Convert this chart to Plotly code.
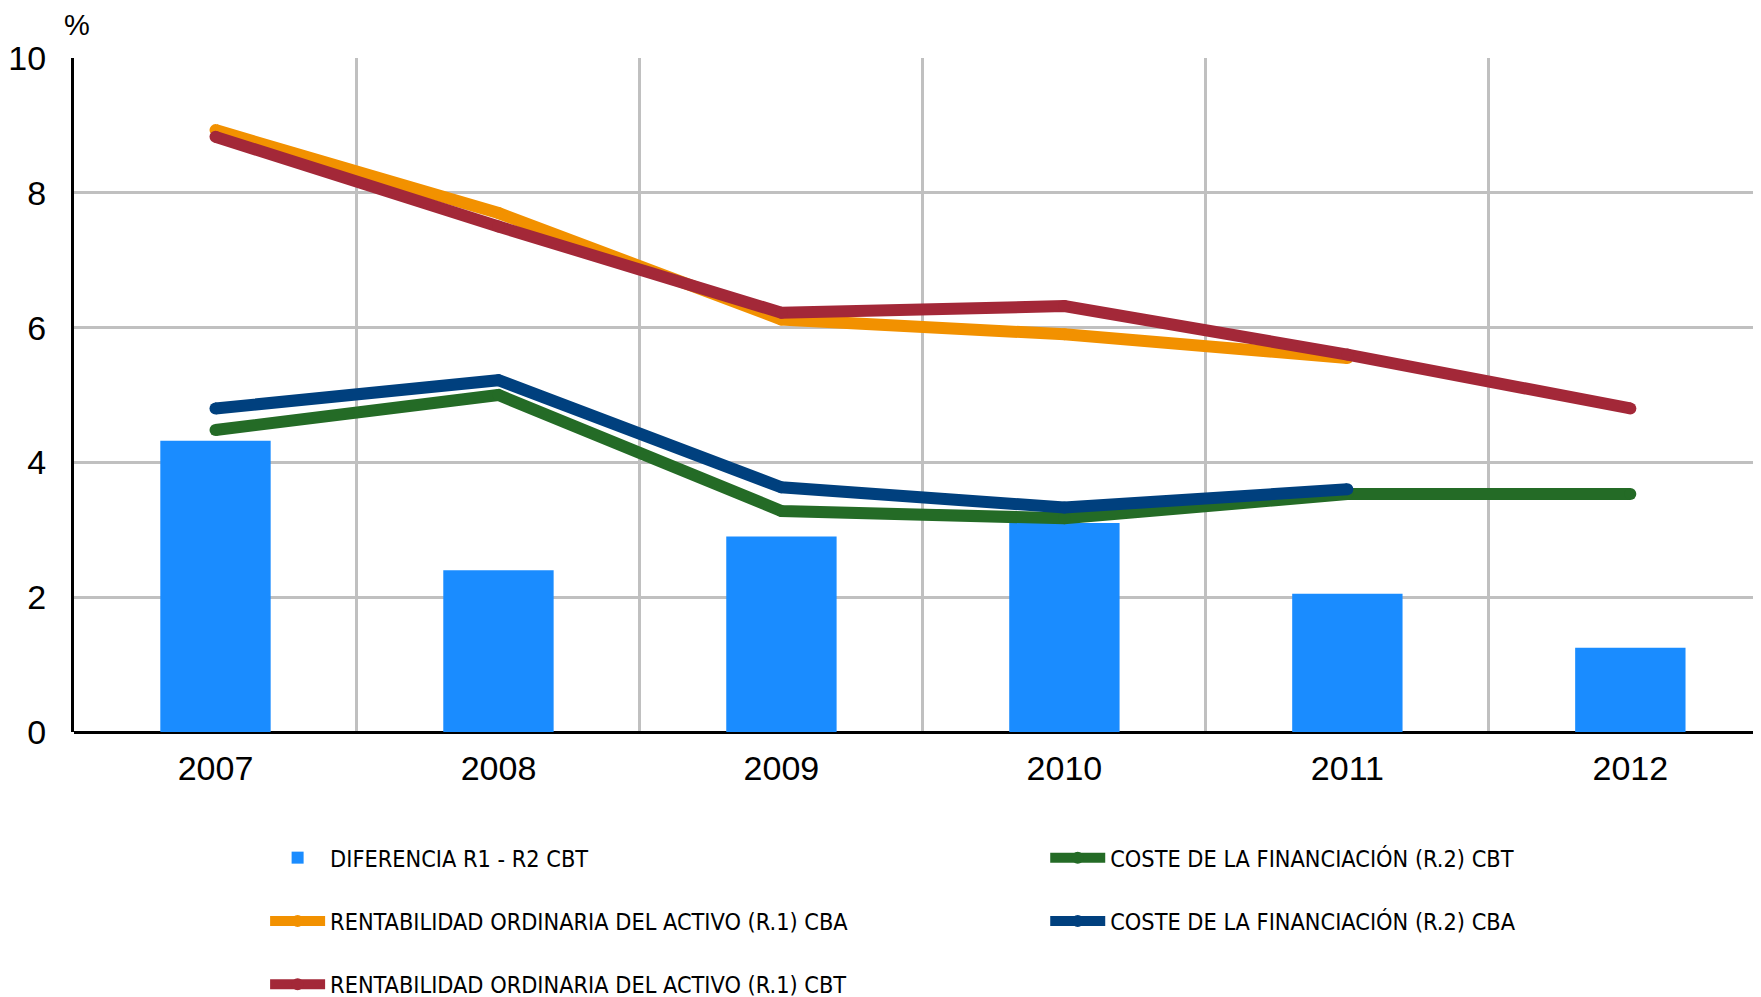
import plotly.graph_objects as go

# Values
years = ["2007", "2008", "2009", "2010", "2011", "2012"]
diferencia_cbt = [4.32, 2.40, 2.90, 3.10, 2.05, 1.25]
r1_cba = [8.93, 7.70, 6.12, 5.90, 5.55, None]
r1_cbt = [8.83, 7.50, 6.22, 6.32, 5.60, 4.80]
r2_cbt = [4.48, 5.00, 3.28, 3.17, 3.53, 3.53]
r2_cba = [4.80, 5.22, 3.63, 3.33, 3.60, None]

y_ticks = [0, 2, 4, 6, 8, 10]

W, H = 1761, 997
LINE_W = 12
TEXT_FONT = "Liberation Sans, Arial, sans-serif"
LEGEND_FONT = "Liberation Sans Narrow, DejaVu Sans Condensed, sans-serif"

fig = go.Figure()

fig.add_trace(go.Bar(
    x=years, y=diferencia_cbt,
    name="DIFERENCIA R1 - R2 CBT",
    marker={"color": "#1a8cff", "line": {"width": 0}},
    width=0.39,
    legend="legend", legendgroup="a", legendrank=1,
))


def add_line(values, name, color, legend, group, rank):
    fig.add_trace(go.Scatter(
        x=years, y=values,
        mode="lines+markers",
        name=name,
        line={"color": color, "width": LINE_W},
        marker={"color": color, "size": LINE_W, "line": {"width": 0}},
        connectgaps=False,
        legend=legend, legendgroup=group, legendrank=rank,
    ))


add_line(r2_cbt, "COSTE DE LA FINANCIACIÓN (R.2) CBT", "#246b26", "legend2", "d", 4)
add_line(r2_cba, "COSTE DE LA FINANCIACIÓN (R.2) CBA", "#00407e", "legend2", "e", 5)
add_line(r1_cba, "RENTABILIDAD ORDINARIA DEL ACTIVO (R.1) CBA", "#f29100", "legend", "b", 2)
add_line(r1_cbt, "RENTABILIDAD ORDINARIA DEL ACTIVO (R.1) CBT", "#a32838", "legend", "c", 3)

legend_common = dict(
    orientation="v",
    xref="container", yref="container",
    xanchor="left", yanchor="top",
    bgcolor="rgba(0,0,0,0)",
    font={"family": LEGEND_FONT, "size": 23.3, "color": "#000"},
    traceorder="grouped",
    tracegroupgap=30,
    itemwidth=55,
    itemclick=False, itemdoubleclick=False,
)

# the page body adds an 8px offset, so margins are set 8px smaller
fig.update_layout(
    width=W, height=H,
    margin={"l": 66, "r": 0, "t": 50, "b": 273, "autoexpand": False},
    paper_bgcolor="white",
    plot_bgcolor="white",
    showlegend=True,
    legend=dict(legend_common, x=0.146, y=1 - 828 / H),
    legend2=dict(legend_common, x=0.589, y=1 - 828 / H),
    xaxis=dict(
        type="category",
        range=[-0.5, 5.49],
        tickson="boundaries",
        ticks="",
        showgrid=True, gridcolor="#c0c0c0", gridwidth=3,
        showline=False,
        zeroline=False,
        tickfont={"family": TEXT_FONT, "size": 34, "color": "#000"},
        ticklabelstandoff=13,
        automargin=False,
        fixedrange=True,
    ),
    yaxis=dict(
        range=[0, 10],
        tickvals=y_ticks,
        ticks="",
        showgrid=True, gridcolor="#c0c0c0", gridwidth=3,
        showline=True, linecolor="#000", linewidth=3,
        zeroline=True, zerolinecolor="#000", zerolinewidth=3,
        tickfont={"family": TEXT_FONT, "size": 34, "color": "#000"},
        ticklabelstandoff=18,
        automargin=False,
        fixedrange=True,
    ),
)

fig.add_annotation(
    text="%", xref="paper", yref="paper",
    x=0.002, y=1.024, xanchor="center", yanchor="bottom",
    showarrow=False, borderpad=0,
    font={"family": TEXT_FONT, "size": 29, "color": "#000"},
)

fig.write_html("out.html")
